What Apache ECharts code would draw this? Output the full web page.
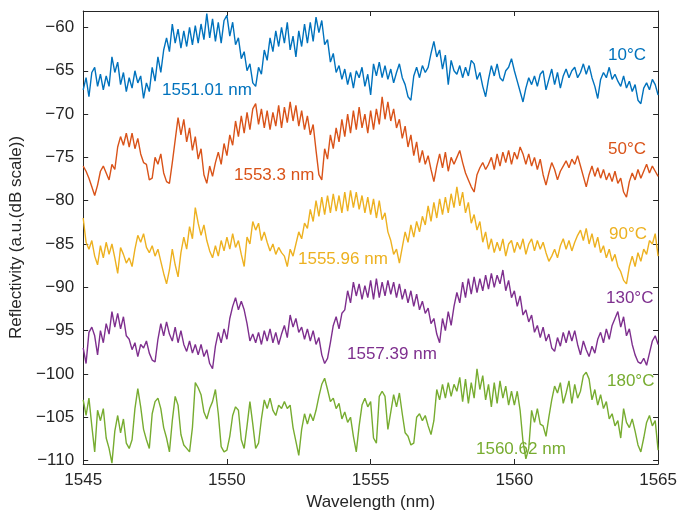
<!DOCTYPE html>
<html><head><meta charset="utf-8">
<script src="https://cdn.jsdelivr.net/npm/echarts@6/dist/echarts.min.js"></script>
<style>html,body{margin:0;padding:0;background:#fff}#c{width:680px;height:518px}</style>
</head><body><div id="c"></div>
<script>
// sampling grid (nm)
const wlStart = 1545, wlStep = 0.1, wlCount = 201;
const wavelengths = [];
for (let i = 0; i < wlCount; i++) wavelengths.push(Math.round((wlStart + i * wlStep) * 10) / 10);

const xTicks = [1545, 1550, 1555, 1560, 1565];
const yTicks = [-110, -105, -100, -95, -90, -85, -80, -75, -70, -65, -60];
const seriesNames = ['10°C', '50°C', '90°C', '130°C', '180°C'];
const peakLabels = ['1551.01 nm', '1553.3 nm', '1555.96 nm', '1557.39 nm', '1560.62 nm'];

const r10 = [
-67.2,-65.8,-68.0,-65.2,-64.6,-66.8,-65.4,-67.2,-65.6,-66.8,
-63.4,-65.2,-64.0,-66.6,-65.2,-67.4,-65.8,-67.0,-65.0,-66.4,
-65.6,-68.2,-66.4,-67.4,-64.6,-66.2,-63.4,-65.2,-62.6,-61.2,
-62.8,-59.6,-61.8,-60.2,-62.4,-60.4,-62.2,-60.0,-62.0,-59.8,
-61.8,-59.6,-61.4,-58.4,-61.2,-59.0,-61.6,-59.4,-61.8,-59.2,
-58.6,-61.0,-59.4,-62.0,-61.2,-63.6,-62.8,-65.0,-64.2,-66.4,
-66.8,-64.6,-65.4,-62.6,-63.8,-61.2,-62.8,-60.4,-62.2,-60.0,
-61.8,-59.4,-62.6,-61.0,-63.4,-60.4,-62.2,-59.6,-61.8,-59.4,
-61.6,-58.8,-60.6,-59.2,-62.0,-61.4,-64.0,-63.0,-65.2,-64.4,
-66.0,-64.8,-66.6,-65.2,-67.0,-65.0,-65.8,-64.6,-66.8,-65.4,
-67.8,-64.2,-65.6,-64.0,-65.8,-64.4,-66.0,-64.8,-66.4,-65.2,
-64.2,-65.8,-66.6,-68.0,-68.4,-65.6,-64.6,-65.8,-64.4,-65.2,
-64.6,-63.0,-61.6,-63.4,-62.6,-64.8,-63.2,-66.6,-63.8,-65.0,
-65.4,-64.4,-65.8,-64.6,-65.6,-63.8,-64.2,-66.0,-65.2,-66.8,
-68.0,-66.0,-64.4,-65.6,-64.2,-65.8,-66.2,-65.0,-64.6,-63.6,
-65.0,-66.2,-67.4,-68.6,-67.0,-65.8,-66.6,-65.6,-66.8,-65.4,
-65.0,-67.2,-66.0,-64.8,-66.6,-65.2,-67.0,-65.6,-64.8,-65.8,
-65.0,-64.6,-65.8,-65.2,-64.2,-65.4,-64.4,-65.8,-66.8,-68.2,
-66.0,-65.2,-65.8,-64.6,-66.0,-65.4,-66.2,-66.8,-65.6,-67.0,
-66.2,-67.4,-66.6,-68.4,-68.8,-67.0,-66.4,-67.2,-66.0,-66.6,
-67.8];

const r50 = [
-76.0,-76.6,-77.4,-78.4,-79.4,-78.2,-76.6,-76.0,-76.8,-77.6,
-75.8,-76.4,-73.8,-72.6,-73.6,-72.2,-73.8,-72.2,-74.0,-72.8,
-74.6,-75.6,-75.8,-77.6,-77.4,-75.0,-75.8,-74.6,-76.8,-77.8,
-78.0,-75.6,-73.0,-70.4,-72.4,-70.6,-73.2,-71.6,-74.2,-72.6,
-75.2,-74.0,-77.0,-78.0,-76.0,-77.2,-75.6,-74.4,-75.8,-73.4,
-74.8,-72.4,-73.6,-70.8,-72.6,-70.2,-72.2,-69.8,-71.8,-69.4,
-68.8,-71.2,-69.4,-71.6,-69.6,-71.8,-69.8,-71.4,-69.0,-71.6,
-69.2,-71.0,-68.6,-70.8,-69.0,-71.4,-69.6,-71.8,-70.2,-72.4,
-71.2,-74.2,-77.0,-77.6,-74.0,-75.2,-72.4,-74.0,-71.6,-73.2,
-70.6,-72.6,-70.0,-72.2,-69.6,-71.8,-69.2,-71.6,-70.0,-72.2,
-69.6,-71.8,-69.4,-71.2,-68.0,-70.6,-68.6,-70.8,-69.4,-71.6,
-70.6,-72.8,-71.4,-73.8,-72.4,-74.8,-73.2,-75.6,-74.2,-75.8,
-74.8,-76.4,-77.8,-76.0,-74.6,-76.2,-74.4,-76.6,-75.0,-75.8,
-75.0,-74.2,-75.6,-76.8,-77.6,-78.4,-79.0,-77.0,-76.2,-75.6,
-76.4,-75.8,-75.0,-76.4,-74.6,-76.0,-74.4,-75.6,-74.2,-75.8,
-74.4,-75.2,-73.8,-74.6,-75.8,-74.6,-76.0,-75.0,-76.4,-75.2,
-77.0,-78.2,-76.8,-75.6,-76.4,-77.6,-76.6,-76.0,-75.4,-76.2,
-75.2,-75.8,-74.8,-76.0,-77.2,-78.4,-77.0,-76.0,-77.2,-76.2,
-77.4,-76.4,-77.6,-76.8,-77.8,-76.6,-78.0,-77.4,-79.0,-79.6,
-77.8,-76.8,-77.6,-76.4,-77.4,-76.6,-75.8,-76.8,-76.0,-76.6,
-77.2];

const r90 = [
-82.0,-84.8,-85.6,-84.6,-86.4,-87.4,-85.2,-86.6,-84.8,-86.2,
-85.0,-86.6,-88.4,-85.4,-86.2,-87.2,-86.6,-87.6,-85.6,-84.0,
-84.8,-83.8,-85.4,-86.0,-85.2,-86.4,-85.6,-87.0,-88.4,-89.6,
-88.0,-85.6,-87.4,-88.8,-86.0,-84.2,-85.6,-83.0,-84.4,-80.8,
-82.6,-84.0,-82.8,-84.6,-85.8,-86.6,-85.2,-86.4,-84.6,-85.8,
-84.2,-85.6,-83.8,-85.4,-84.6,-86.2,-87.6,-84.2,-85.0,-82.4,
-83.4,-82.6,-84.6,-83.6,-84.8,-85.8,-85.0,-86.2,-85.4,-86.0,
-86.4,-87.6,-85.6,-86.4,-85.0,-83.6,-84.4,-82.6,-83.2,-81.0,
-82.4,-80.0,-81.8,-79.6,-81.6,-79.4,-81.4,-79.2,-81.2,-79.4,
-81.4,-79.0,-81.2,-78.8,-80.8,-79.0,-81.0,-79.4,-81.4,-79.6,
-81.6,-79.8,-82.0,-80.0,-82.2,-81.4,-83.6,-84.6,-86.2,-85.6,
-87.2,-85.4,-83.6,-84.8,-82.8,-84.2,-82.4,-83.6,-81.8,-82.8,
-80.6,-82.4,-80.2,-82.0,-79.8,-81.6,-79.6,-81.4,-79.2,-80.8,
-78.4,-80.6,-79.0,-81.4,-80.2,-82.6,-81.6,-83.4,-82.4,-84.8,
-83.6,-85.6,-84.4,-86.0,-84.8,-85.8,-84.4,-86.4,-85.0,-84.6,
-86.0,-84.8,-85.6,-84.4,-86.2,-85.0,-84.4,-85.8,-84.6,-85.6,
-84.8,-86.0,-87.0,-86.4,-85.6,-86.6,-85.2,-84.4,-85.6,-84.6,
-85.8,-84.8,-84.0,-83.4,-84.6,-83.2,-85.0,-83.8,-85.4,-84.2,
-86.0,-85.2,-86.6,-85.6,-87.0,-86.2,-87.6,-88.2,-89.2,-89.6,
-87.6,-86.4,-87.6,-86.0,-87.0,-85.6,-86.2,-84.6,-85.0,-83.8,
-86.4];

const r130 = [
-97.0,-98.8,-95.2,-94.6,-95.6,-97.8,-95.0,-96.4,-94.2,-95.4,
-92.8,-94.6,-93.0,-94.8,-93.4,-95.6,-96.0,-97.2,-96.4,-98.0,
-96.6,-97.0,-96.2,-97.6,-98.4,-98.6,-96.0,-94.2,-95.6,-94.0,
-95.4,-96.2,-94.6,-96.4,-95.0,-96.6,-97.4,-96.2,-97.6,-96.6,
-97.8,-96.6,-98.0,-97.2,-98.8,-99.4,-96.8,-95.2,-96.4,-94.8,
-96.0,-93.6,-92.2,-91.2,-92.6,-91.6,-92.6,-94.2,-96.2,-95.4,
-96.4,-95.2,-96.6,-95.0,-96.2,-94.8,-96.4,-95.2,-96.6,-95.4,
-94.4,-95.8,-93.2,-94.6,-93.6,-95.2,-94.6,-96.0,-94.8,-96.2,
-95.0,-96.6,-95.8,-97.8,-98.8,-98.2,-96.4,-94.4,-93.4,-94.8,
-93.0,-92.6,-90.4,-91.8,-89.4,-91.0,-89.6,-91.4,-89.8,-91.2,
-89.2,-91.4,-89.0,-91.2,-89.4,-91.0,-89.2,-90.8,-89.4,-91.2,
-89.6,-91.4,-90.2,-91.8,-90.4,-92.2,-90.8,-92.6,-91.6,-93.0,
-92.4,-94.2,-93.6,-95.4,-96.4,-93.6,-95.0,-92.8,-94.4,-92.2,
-90.6,-91.8,-89.4,-91.2,-89.0,-90.8,-88.8,-90.6,-89.0,-90.4,
-88.6,-90.2,-88.4,-90.0,-88.6,-89.6,-88.0,-90.4,-89.2,-91.2,
-90.4,-92.2,-91.0,-93.2,-92.6,-94.0,-93.2,-95.2,-94.4,-95.8,
-94.6,-96.2,-95.4,-97.0,-97.4,-95.8,-96.8,-95.2,-96.4,-95.0,
-96.2,-95.0,-96.6,-97.8,-96.2,-97.2,-98.0,-96.8,-97.6,-96.0,
-95.2,-96.4,-94.8,-96.0,-94.4,-93.6,-92.8,-94.6,-93.4,-95.6,
-94.8,-96.6,-97.8,-98.6,-98.8,-98.2,-99.0,-97.6,-96.2,-95.6,
-96.6];

const r180 = [
-103.0,-104.8,-102.8,-106.0,-109.0,-104.2,-105.4,-104.0,-107.4,-108.6,
-110.3,-106.6,-104.8,-106.8,-105.2,-108.0,-108.6,-107.6,-104.0,-101.7,
-103.8,-106.4,-107.6,-108.6,-104.6,-103.2,-102.8,-104.0,-106.2,-107.4,
-109.0,-105.4,-102.6,-103.6,-107.0,-108.2,-108.6,-109.0,-106.2,-101.0,
-101.6,-102.4,-104.4,-105.2,-104.0,-103.2,-101.8,-104.6,-108.4,-109.0,
-108.8,-107.2,-104.8,-103.8,-104.2,-107.6,-108.6,-106.0,-103.2,-105.8,
-108.6,-108.0,-105.2,-103.0,-104.0,-102.8,-104.2,-104.8,-103.6,-104.0,
-103.2,-104.0,-103.6,-106.2,-107.8,-109.4,-106.4,-104.6,-105.8,-104.6,
-105.4,-104.2,-102.6,-101.2,-100.5,-101.8,-103.2,-102.8,-104.0,-103.4,
-105.2,-104.4,-105.6,-105.0,-107.2,-109.0,-106.0,-103.6,-102.8,-103.8,
-103.2,-107.4,-108.0,-102.6,-102.0,-102.6,-106.4,-104.4,-102.4,-103.8,
-102.2,-104.6,-106.8,-107.2,-108.2,-108.0,-105.0,-104.6,-105.4,-104.8,
-106.0,-107.0,-105.4,-101.8,-103.0,-101.2,-102.8,-101.0,-102.6,-101.2,
-102.0,-100.4,-103.2,-100.6,-103.4,-101.0,-102.8,-99.4,-101.8,-100.2,
-103.0,-101.2,-103.8,-101.0,-103.4,-100.8,-102.8,-101.4,-103.6,-102.0,
-103.6,-102.0,-104.2,-107.8,-109.8,-108.6,-104.2,-105.6,-104.0,-105.8,
-106.0,-107.2,-105.0,-103.0,-101.4,-102.2,-101.0,-103.4,-102.2,-100.8,
-103.4,-101.2,-102.8,-102.0,-100.2,-99.8,-100.6,-103.0,-101.8,-103.6,
-102.4,-104.0,-103.2,-105.2,-104.6,-106.0,-105.4,-107.4,-104.0,-105.6,
-106.2,-105.2,-106.6,-108.2,-109.0,-107.4,-105.6,-104.8,-106.0,-105.4,
-108.8];

const seriesValues = [r10, r50, r90, r130, r180];
const colors = ['#0072BD', '#D95319', '#EDB120', '#7E2F8E', '#77AC30'];

const FONT = '"Liberation Sans", Arial, Helvetica, sans-serif';
const TXT = '#262626';
const minusFmt = v => String(v).replace('-', '\u2212');
const plainFmt = v => String(v);

const chart = echarts.init(document.getElementById('c'), null, {renderer: 'canvas'});

const axisLineStyle = {show: true, lineStyle: {color: TXT, width: 1}};
const option = {
  animation: false,
  backgroundColor: '#fff',
  grid: {left: 83, right: 21, top: 11, bottom: 54, containLabel: false},
  xAxis: [{
    type: 'value', min: 1545, max: 1565, interval: 5, position: 'bottom',
    name: 'Wavelength (nm)', nameLocation: 'middle', nameGap: 28,
    nameTextStyle: {fontFamily: FONT, fontSize: 17, color: TXT},
    axisLine: axisLineStyle,
    axisTick: {show: true, inside: true, length: 5, lineStyle: {color: TXT}},
    axisLabel: {show: true, margin: 8, fontFamily: FONT, fontSize: 17, color: TXT,
      customValues: xTicks, formatter: plainFmt},
    splitLine: {show: false}
  }, {
    type: 'value', min: 1545, max: 1565, interval: 5, position: 'top',
    axisLine: axisLineStyle,
    axisTick: {show: true, inside: true, length: 5, lineStyle: {color: TXT}},
    axisLabel: {show: false}, splitLine: {show: false}
  }],
  yAxis: [{
    type: 'value', min: -110.4, max: -58.1, position: 'left',
    name: 'Reflectivity (a.u.(dB scale))', nameLocation: 'middle', nameGap: 48,
    nameTextStyle: {fontFamily: FONT, fontSize: 17, color: TXT},
    axisLine: axisLineStyle,
    axisTick: {show: true, inside: true, length: 5, lineStyle: {color: TXT}, customValues: yTicks},
    axisLabel: {show: true, margin: 9, fontFamily: FONT, fontSize: 17, color: TXT,
      customValues: yTicks, formatter: minusFmt},
    splitLine: {show: false}
  }, {
    type: 'value', min: -110.4, max: -58.1, position: 'right',
    axisLine: axisLineStyle,
    axisTick: {show: true, inside: true, length: 5, lineStyle: {color: TXT}, customValues: yTicks},
    axisLabel: {show: false, customValues: yTicks}, splitLine: {show: false}
  }],
  series: seriesValues.map((vals, k) => ({
    name: seriesNames[k], type: 'line', xAxisIndex: 0, yAxisIndex: 0,
    showSymbol: false, symbol: 'none', smooth: false,
    lineStyle: {color: colors[k], width: 1.4},
    itemStyle: {color: colors[k]},
    data: wavelengths.map((w, i) => [w, vals[i]]),
    z: 2 + k
  }))
};
chart.setOption(option);

// annotation text placement (pixel layout)
const tempPos = [[608, 55], [608, 149], [609, 234], [606, 298], [607, 381]];
const peakPos = [[162, 90], [234, 175], [298, 259], [347, 354], [476, 449]];
const g = [];
seriesNames.forEach((t, k) => {
  g.push({type: 'text', x: tempPos[k][0], y: tempPos[k][1], z: 100,
    style: {text: t, fill: colors[k], font: '17px ' + FONT, align: 'left', verticalAlign: 'middle'}});
  g.push({type: 'text', x: peakPos[k][0], y: peakPos[k][1], z: 100,
    style: {text: peakLabels[k], fill: colors[k], font: '17px ' + FONT, align: 'left', verticalAlign: 'middle'}});
});
chart.setOption({graphic: g});
</script></body></html>
